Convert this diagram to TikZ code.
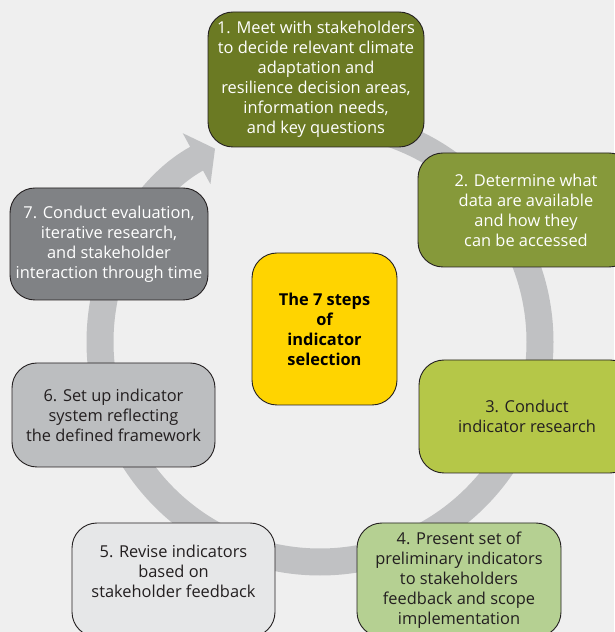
\documentclass[tikz,border=0pt]{standalone}
\usepackage{fontspec}
\setmainfont{Open Sans}
\usepackage{xcolor}
\usetikzlibrary{arrows.meta, positioning}
\definecolor{bgGray}{HTML}{EFEFEF}
\definecolor{ringGray}{HTML}{C0C1C3}
\definecolor{edgeDark}{HTML}{231F20}
\definecolor{oliveDark}{HTML}{6B7A23}
\definecolor{oliveMid}{HTML}{86993A}
\definecolor{limeGreen}{HTML}{B5C748}
\definecolor{sageGreen}{HTML}{B5D092}
\definecolor{paleGray}{HTML}{E6E7E8}
\definecolor{midGray}{HTML}{BCBEC0}
\definecolor{darkGray}{HTML}{808285}
\definecolor{hubYellow}{HTML}{FFD400}
\tikzset{
    stepbox/.style={rectangle, rounded corners=25pt, draw=edgeDark, line width=0.9pt, align=center,
        font=\fontsize{16.4}{20}\selectfont, inner sep=0pt},
    darkstep/.style={stepbox, text=white},
    lightstep/.style={stepbox, text=edgeDark},
    hubbox/.style={stepbox, fill=hubYellow, text=black, font=\fontsize{16.4}{20}\selectfont\bfseries},
    ring/.style={draw=ringGray, line width=27pt, -{Triangle[length=21pt, width=57pt]}},
}

\begin{document}
\begin{tikzpicture}[x=1pt, y=1pt]
    \fill[bgGray] (0,0) rectangle (614,632);
    \useasboundingbox (0,0) rectangle (614,632);
    % circular flow behind the boxes
    \coordinate (hubc) at (320,290);
    \draw[ring] ([shift={(90:220)}]hubc) arc[start angle=90, end angle=-241.5, radius=220];
    % the seven steps
    \node[darkstep, fill=oliveDark, minimum width=216pt, minimum height=135pt] (s1) at (316,552.5)
        {1. Meet with stakeholders\\to decide relevant climate\\adaptation and\\resilience decision areas,\\information needs,\\and key questions};
    \node[darkstep, fill=oliveMid, minimum width=216pt, minimum height=114pt] (s2) at (526,422)
        {2. Determine what\\data are available\\and how they\\can be accessed};
    \node[lightstep, fill=limeGreen, minimum width=216pt, minimum height=113pt] (s3) at (527,215.5)
        {3. Conduct\\indicator research};
    \node[lightstep, fill=sageGreen, minimum width=204pt, minimum height=114pt] (s4) at (459,52)
        {4. Present set of\\preliminary indicators\\to stakeholders\\feedback and scope\\implementation};
    \node[lightstep, fill=paleGray, minimum width=203pt, minimum height=114pt, text depth=18pt] (s5) at (173.5,52)
        {5. Revise indicators\\based on\\stakeholder feedback};
    \node[lightstep, fill=midGray, minimum width=203pt, minimum height=104pt] (s6) at (113.5,217)
        {6. Set up indicator\\system reflecting\\the defined framework};
    \node[darkstep, fill=darkGray, minimum width=198pt, minimum height=112pt] (s7) at (109,388)
        {7. Conduct evaluation,\\iterative research,\\and stakeholder\\interaction through time};
    % centre
    \node[hubbox, minimum width=145pt, minimum height=152pt] (hub) at (324.5,303)
        {The 7 steps\\of\\indicator\\selection};
\end{tikzpicture}
\end{document}
